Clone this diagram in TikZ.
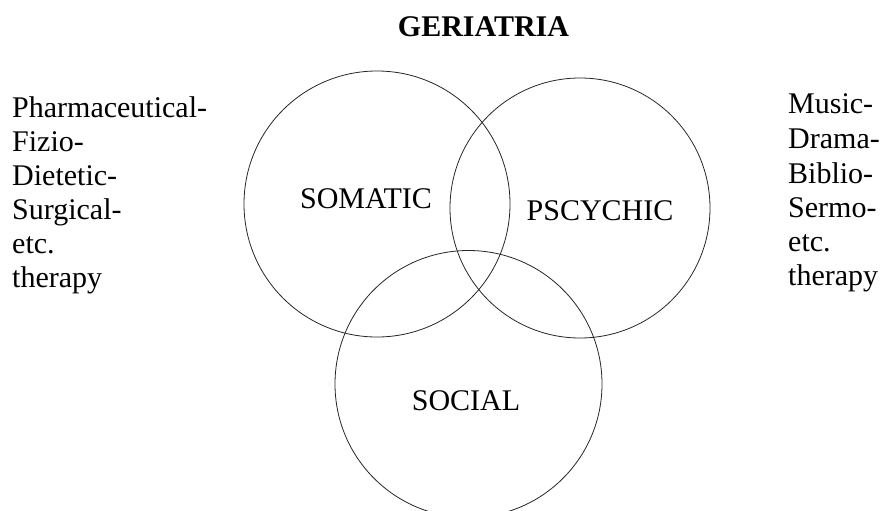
\documentclass[tikz,border=0pt]{standalone}
\usepackage{fontspec}
\setmainfont{Liberation Serif}
\begin{document}
\begin{tikzpicture}[x=1pt,y=-1pt,
  ring/.style={draw=black!85,line width=0.8pt},
  lbl/.style={font=\fontsize{30}{34}\selectfont,inner sep=0pt},
  ttl/.style={font=\fontsize{30}{34}\selectfont\bfseries,inner sep=0pt}]
\useasboundingbox (0,0) rectangle (883,511);
\draw[ring] (377,204) circle (133);
\draw[ring] (580,208) circle (130);
\draw[ring] (468.5,384) circle (133.5);
\node[ttl,anchor=base] (t) at (483.5,37) {GERIATRIA};
\node[lbl,anchor=base] (so) at (366,208) {SOMATIC};
\node[lbl,anchor=base] (ps) at (600,220) {PSCYCHIC};
\node[lbl,anchor=base] (sc) at (466,410) {SOCIAL};
\node[lbl,anchor=base west] (l1) at (12,117) {Pharmaceutical-};
\node[lbl,anchor=base west] (l2) at (12,151) {Fizio-};
\node[lbl,anchor=base west] (l3) at (12,185) {Dietetic-};
\node[lbl,anchor=base west] (l4) at (12,219) {Surgical-};
\node[lbl,anchor=base west] (l5) at (12,253) {etc.};
\node[lbl,anchor=base west] (l6) at (12,287) {therapy};
\node[lbl,anchor=base west] (r1) at (788,113) {Music-};
\node[lbl,anchor=base west] (r2) at (788,148) {Drama-};
\node[lbl,anchor=base west] (r3) at (788,183) {Biblio-};
\node[lbl,anchor=base west] (r4) at (788,217) {Sermo-};
\node[lbl,anchor=base west] (r5) at (788,251) {etc.};
\node[lbl,anchor=base west] (r6) at (788,285) {therapy};
\end{tikzpicture}
\end{document}
